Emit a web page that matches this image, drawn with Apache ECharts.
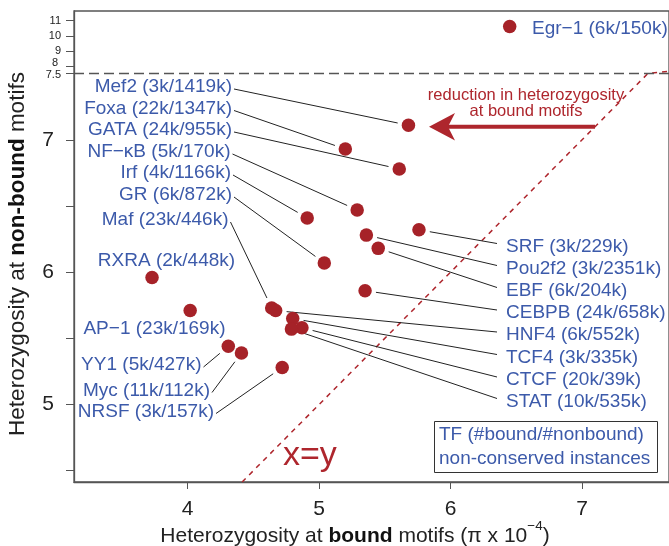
<!DOCTYPE html>
<html>
<head>
<meta charset="utf-8">
<script src="https://cdn.jsdelivr.net/npm/echarts@6/dist/echarts.min.js"></script>
<style>
  html, body { margin: 0; padding: 0; background: #fff; }
  #chart { width: 669px; height: 546px; }
</style>
</head>
<body>
<div id="chart"></div>
<script>
// TF (#bound/#nonbound), non-conserved instances
const tfNames = [
  'Mef2 (3k/1419k)', 'Foxa (22k/1347k)', 'GATA (24k/955k)', 'NF\u2212\u03baB (5k/170k)',
  'Irf (4k/1166k)', 'GR (6k/872k)', 'Maf (23k/446k)', 'RXRA (2k/448k)',
  'AP\u22121 (23k/169k)', 'YY1 (5k/427k)', 'Myc (11k/112k)', 'NRSF (3k/157k)',
  'SRF (3k/229k)', 'Pou2f2 (3k/2351k)', 'EBF (6k/204k)', 'CEBPB (24k/658k)',
  'HNF4 (6k/552k)', 'TCF4 (3k/335k)', 'CTCF (20k/39k)', 'STAT (10k/535k)',
  'Egr\u22121 (6k/150k)'
]
// heterozygosity at bound motifs (pi x 1e-4)
const boundHet = [
  5.68, 5.20, 5.61, 5.29, 4.91, 5.04, 4.64, 3.73, 4.02, 4.31, 4.41, 4.72,
  5.76, 5.36, 5.45, 5.35, 4.67, 4.80, 4.87, 4.79, 6.45
]
// heterozygosity at non-bound motifs
const nonboundHet = [
  7.11, 6.93, 6.78, 6.47, 6.41, 6.07, 5.73, 5.96, 5.71, 5.44, 5.39, 5.28,
  6.32, 6.28, 6.18, 5.86, 5.71, 5.65, 5.58, 5.57, 10.62
]
const yTicks = [4.5, 5, 5.5, 6, 6.5, 7, 7.5, 8, 9, 10, 11]
const yLabels = [5, 6, 7, 7.5, 8, 9, 10, 11]
const xTicks = [4, 5, 6, 7]

// y axis is squeezed above 7.5
const BREAK = 7.5
const SQUEEZE = 0.1141
function squeeze (v) { return v <= BREAK ? v : BREAK + (v - BREAK) * SQUEEZE }
function unsqueeze (v) { return v <= BREAK + 1e-9 ? v : BREAK + (v - BREAK) / SQUEEZE }

// label placement in pixels: [x, y, align, leader line?]
const labelSpots = [
  [232, 87, 'right', true], [232, 108.5, 'right', true], [232, 130, 'right', true],
  [230.5, 152, 'right', true], [231, 173, 'right', true], [232, 195, 'right', true],
  [228.5, 220, 'right', true], [166.5, 261, 'center', false], [225.5, 328.5, 'right', false],
  [201.5, 365, 'right', true], [210, 390.5, 'right', true], [214, 411.5, 'right', true],
  [506, 246.5, 'left', true], [506, 268.5, 'left', true], [506, 290.5, 'left', true],
  [506, 313, 'left', true], [506, 335, 'left', true], [506, 357.5, 'left', true],
  [506, 380, 'left', true], [506, 401.5, 'left', true], [532, 28.5, 'left', false]
]

const blue = '#3c5aaa'
const red = '#ae262d'
const points = boundHet.map((x, i) => [x, squeeze(nonboundHet[i])])
const xMin = 3.1365
const xMax = 7.6615
const yMin = 4.415
const yMax = 7.973

const myChart = echarts.init(document.getElementById('chart'))
const option = {
  animation: false,
  grid: {
    left: 74, top: 11, right: -5, bottom: 64,
    show: true, borderColor: '#555', borderWidth: 1.3, backgroundColor: 'transparent'
  },
  xAxis: {
    type: 'value', min: xMin, max: xMax,
    splitLine: { show: false },
    axisLine: { onZero: false, lineStyle: { color: '#555', width: 1.3 } },
    axisTick: { customValues: xTicks, length: 7, lineStyle: { color: '#555' } },
    axisLabel: { customValues: xTicks, fontSize: 21, color: '#222', margin: 17, fontFamily: 'Liberation Sans' }
  },
  yAxis: {
    type: 'value', min: yMin, max: yMax,
    splitLine: { show: false },
    axisLine: { onZero: false, lineStyle: { color: '#555', width: 1.3 } },
    axisTick: { customValues: yTicks.map(squeeze), length: 8, lineStyle: { color: '#555' } },
    axisLabel: {
      customValues: yLabels.map(squeeze),
      margin: 13,
      formatter: function (v) {
        const r = unsqueeze(v)
        if (r > 7.4 && r < 7.7) return '{h|7.5}'
        if (r > 7.7 && r < 8.5) return '{e|8}'
        if (r > 7.4) return '{s|' + Math.round(r) + '}'
        return '{b|' + Math.round(r) + '}'
      },
      rich: {
        s: { fontSize: 11, color: '#222', fontFamily: 'Liberation Sans' },
        e: { fontSize: 11, color: '#222', fontFamily: 'Liberation Sans', padding: [0, 3, 7, 0] },
        h: { fontSize: 11, color: '#222', fontFamily: 'Liberation Sans', padding: [3, 0, 0, 0] },
        b: { fontSize: 21, color: '#222', fontFamily: 'Liberation Sans', padding: [0, 7, 0, 0] }
      }
    }
  },
  graphic: [
    {
      type: 'text', x: 18, y: 254, rotation: Math.PI / 2,
      style: {
        text: '{n|Heterozygosity at }{b|non-bound}{n| motifs}',
        align: 'center', verticalAlign: 'middle',
        rich: {
          n: { fontSize: 22.5, fontFamily: 'Liberation Sans', fill: '#222' },
          b: { fontSize: 22.5, fontFamily: 'Liberation Sans', fontWeight: 'bold', fill: '#111' }
        }
      }
    },
    {
      type: 'text', x: 355, y: 533,
      style: {
        text: '{n|Heterozygosity at }{b|bound}{n| motifs (\u03c0 x 10}{sup|\u22124}{n|)}',
        align: 'center', verticalAlign: 'middle',
        rich: {
          n: { fontSize: 21, fontFamily: 'Liberation Sans', fill: '#222', verticalAlign: 'bottom' },
          b: { fontSize: 21, fontFamily: 'Liberation Sans', fontWeight: 'bold', fill: '#111', verticalAlign: 'bottom' },
          sup: { fontSize: 13.5, fontFamily: 'Liberation Sans', fill: '#222', verticalAlign: 'top', padding: [0, 0, 14, 0] }
        }
      }
    },
    {
      type: 'rect', shape: { x: 434.5, y: 421.5, width: 223, height: 51 },
      style: { fill: '#fff', stroke: '#333', lineWidth: 1 }, z: 50
    },
    {
      type: 'text', x: 439, y: 435, z: 51,
      style: { text: 'TF (#bound/#nonbound)', font: '19px "Liberation Sans"', fill: blue, verticalAlign: 'middle' }
    },
    {
      type: 'text', x: 439, y: 459, z: 51,
      style: { text: 'non-conserved instances', font: '19px "Liberation Sans"', fill: blue, verticalAlign: 'middle' }
    },
    {
      type: 'text', x: 283, y: 455.5, z: 51,
      style: { text: 'x=y', font: '34px "Liberation Sans"', fill: red, verticalAlign: 'middle' }
    },
    {
      type: 'text', x: 526, y: 95, z: 51,
      style: { text: 'reduction in heterozygosity', font: '16.5px "Liberation Sans"', fill: red, align: 'center', verticalAlign: 'middle' }
    },
    {
      type: 'text', x: 526, y: 111.5, z: 51,
      style: { text: 'at bound motifs', font: '16.5px "Liberation Sans"', fill: red, align: 'center', verticalAlign: 'middle' }
    },
    {
      type: 'line', shape: { x1: 446, y1: 126.7, x2: 595, y2: 126.7 }, z: 51,
      style: { stroke: red, lineWidth: 4 }
    },
    {
      type: 'polygon', z: 51,
      shape: { points: [[429, 126.7], [455, 113], [448, 126.7], [455, 140.5]] },
      style: { fill: red }
    }
  ],
  series: [
    {
      // x = y reference
      type: 'line',
      data: [[yMin, yMin], [BREAK, BREAK], [xMax, squeeze(xMax)]],
      symbol: 'none',
      lineStyle: { color: red, width: 1.5, type: [5, 5] },
      silent: true, z: 1
    },
    {
      type: 'custom',
      data: points,
      silent: true, z: 2,
      renderItem: function (params, api) {
        const i = params.dataIndex
        const p = api.coord([api.value(0), api.value(1)])
        const spot = labelSpots[i]
        const children = [{
          type: 'text',
          style: {
            text: tfNames[i], x: spot[0], y: spot[1], align: spot[2], verticalAlign: 'middle',
            font: '19px "Liberation Sans"', fill: blue
          }
        }]
        if (spot[3]) {
          const sx = spot[2] === 'right' ? spot[0] + 2 : spot[0] - 9
          const sy = spot[2] === 'right' ? spot[1] + 2 : spot[1] - 3
          const dx = sx - p[0]
          const dy = sy - p[1]
          const d = Math.hypot(dx, dy)
          children.push({
            type: 'line',
            shape: { x1: sx, y1: sy, x2: p[0] + dx / d * 11, y2: p[1] + dy / d * 11 },
            style: { stroke: '#222', lineWidth: 1 }
          })
        }
        return { type: 'group', children: children }
      }
    },
    {
      type: 'scatter',
      data: points,
      symbolSize: 13.5,
      itemStyle: { color: '#a62228', opacity: 1 },
      z: 3,
      markLine: {
        silent: true, symbol: 'none', label: { show: false },
        lineStyle: { color: '#555', width: 1.3, type: [10, 5] },
        data: [{ yAxis: BREAK }]
      }
    }
  ]
}
myChart.setOption(option)
</script>
</body>
</html>
